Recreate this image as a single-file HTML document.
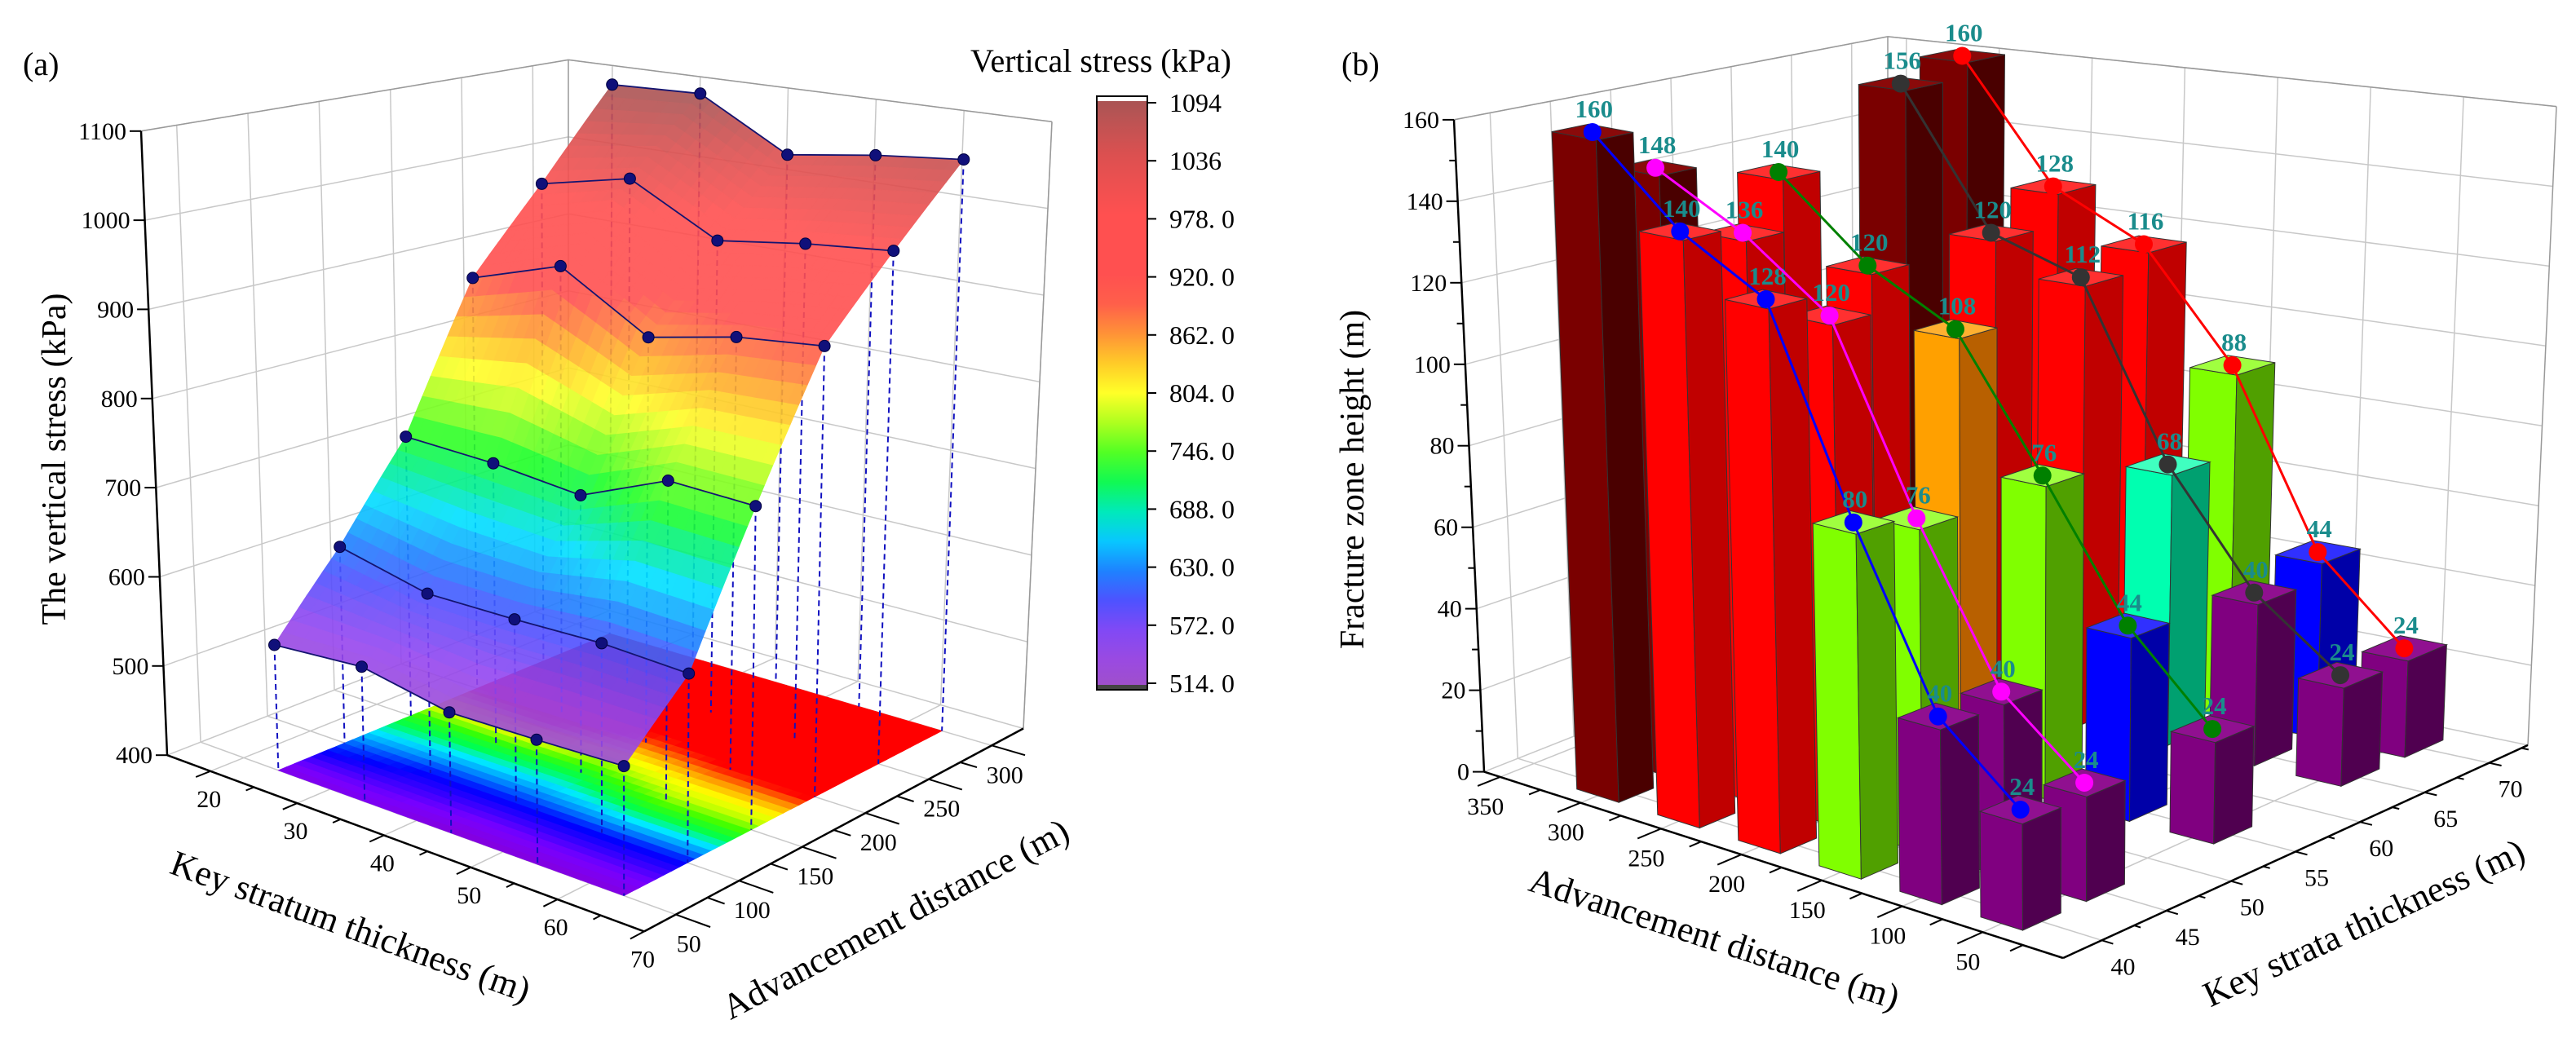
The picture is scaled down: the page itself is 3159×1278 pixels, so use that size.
<!DOCTYPE html>
<html><head><meta charset="utf-8"><title>Vertical stress and fracture zone height charts</title>
<style>
html,body{margin:0;padding:0;background:#fff;}
svg, svg text{font-family:"Liberation Serif","Noto Serif CJK SC",serif;}
</style></head>
<body>
<svg id="chart" width="3159" height="1273" viewBox="0 0 3159 1273" xmlns="http://www.w3.org/2000/svg" font-family="Liberation Serif, serif">
<defs>
<linearGradient id="cbgrad" x1="0" y1="1" x2="0" y2="0"></linearGradient>
</defs>
<g id="ga"></g>
<g id="gb"></g>
<text x="28" y="92" font-size="40">(a)</text>
<text x="1645" y="92" font-size="40">(b)</text>
<text x="1190" y="88" font-size="40">Vertical stress (kPa)</text>
<text transform="translate(80,563) rotate(-90)" text-anchor="middle" font-size="42">The vertical stress (kPa)</text>
<text transform="translate(425,1150) rotate(20)" text-anchor="middle" font-size="44">Key stratum thickness (m)</text>
<text transform="translate(1105,1140) rotate(-28)" text-anchor="middle" font-size="44">Advancement distance (m)</text>
<text transform="translate(1672,588) rotate(-90)" text-anchor="middle" font-size="42">Fracture zone height (m)</text>
<text transform="translate(2098,1165) rotate(18)" text-anchor="middle" font-size="44">Advancement distance (m)</text>
<text transform="translate(2905,1145) rotate(-25)" text-anchor="middle" font-size="44">Key strata thickness (m)</text>
</svg>
<script>
// ---------- Panel (a) data ----------
const thickA = [24, 34, 44, 54, 64];
const advA = [50, 100, 150, 200, 250, 300];
const stress50 = [540, 548, 530, 532, 535];
const stress100 = [624, 601, 602, 605, 601];
const stress150 = [726, 722, 712, 754, 751];
const stress200 = [891, 927, 866, 888, 899];
const stress250 = [985, 1010, 955, 970, 980];
const stress300 = [1090, 1094, 1035, 1050, 1060];
const zTicksA = [400, 500, 600, 700, 800, 900, 1000, 1100];
const tTicksA = [20, 30, 40, 50, 60, 70];
const aTicksA = [50, 100, 150, 200, 250, 300];
const cbLabels = ["1094", "1036", "978. 0", "920. 0", "862. 0", "804. 0", "746. 0", "688. 0", "630. 0", "572. 0", "514. 0"];
const cbValues = [1094, 1036, 978, 920, 862, 804, 746, 688, 630, 572, 514];
// ---------- Panel (b) data ----------
const advB = [300, 250, 200, 150, 100, 50];
const thickB = [40, 45, 55, 65, 70];
const h40 = [160, 140, 128, 80, 40, 24];
const h45 = [148, 136, 120, 76, 40, 24];
const h55 = [140, 120, 108, 76, 44, 24];
const h65 = [156, 120, 112, 68, 40, 24];
const h70 = [160, 128, 116, 88, 44, 24];
const zTicksB = [0, 20, 40, 60, 80, 100, 120, 140, 160];
const aTicksB = [50, 100, 150, 200, 250, 300, 350];
const tTicksB = [40, 45, 50, 55, 60, 65, 70];

const NS = "http://www.w3.org/2000/svg";
const SY = 0.816;
const ga = document.getElementById('ga');
const gb = document.getElementById('gb');
function mk(tag, at, parent) { const e = document.createElementNS(NS, tag); for (const k in at) e.setAttribute(k, at[k]); parent.appendChild(e); return e; }
function bil(c, u, v, k) {
  return c[0][k]*(1-u)*(1-v) + c[1][k]*u*(1-v) + c[2][k]*u*v + c[3][k]*(1-u)*v;
}
const floorA = [[205,1135],[790,1400],[1255,1095],[697,900]];
const vertA = [[-32,-938],[0,-1030],[35,-912],[0,-810]];
function pa(t, a, z) {
  const u = (t-15)/55, v = (a-25)/300, w = (z-400)/700;
  const x = bil(floorA,u,v,0) + w*bil(vertA,u,v,0);
  const y = bil(floorA,u,v,1) + w*bil(vertA,u,v,1);
  return [x*1.0, y*SY];
}
const floorB = [[930,1440],[220,1160],[715,920],[1500,1120]];
const vertB = [[0,-1080],[-37,-980],[0,-865],[35,-960]];
function pb(a, t, z) {
  const u = a/360, v = (t-37)/36, w = z/160;
  const x = bil(floorB,u,v,0) + w*bil(vertB,u,v,0);
  const y = bil(floorB,u,v,1) + w*bil(vertB,u,v,1);
  return [1600 + x, y*SY];
}
const stops = [[514,[160,80,200]],[560,[150,70,240]],[600,[80,80,255]],[630,[30,130,255]],[670,[0,225,255]],[700,[0,240,140]],[730,[30,255,40]],[770,[160,255,30]],[804,[255,255,40]],[840,[255,190,40]],[870,[255,130,60]],[900,[255,80,80]],[980,[255,80,80]],[1036,[220,80,80]],[1094,[165,85,85]]];
const stopsFloor = [[514,[140,0,200]],[560,[120,0,255]],[600,[0,0,255]],[630,[0,110,255]],[670,[0,235,255]],[700,[0,255,80]],[740,[60,255,0]],[780,[200,255,0]],[810,[255,255,0]],[850,[255,150,0]],[890,[255,0,0]],[1094,[255,0,0]]];
function cmapS(z, st) {
  if (z <= st[0][0]) return 'rgb(' + st[0][1].join(',') + ')';
  for (let i = 1; i < st.length; i++) {
    if (z <= st[i][0]) {
      const f = (z - st[i-1][0]) / (st[i][0] - st[i-1][0]);
      const c = st[i-1][1].map((v, k) => Math.round(v + f*(st[i][1][k]-v)));
      return 'rgb(' + c.join(',') + ')';
    }
  }
  return 'rgb(' + st[st.length-1][1].join(',') + ')';
}
function cmap(z) { return cmapS(z, stops); }
function line(p, q, st, sw, parent, name, dash) {
  const l = mk('line', {x1:p[0].toFixed(1), y1:p[1].toFixed(1), x2:q[0].toFixed(1), y2:q[1].toFixed(1), stroke:st, 'stroke-width':sw}, parent);
  if (dash) l.setAttribute('stroke-dasharray', dash);
  
  
  return l;
}
function txt(x, y, s, size, anchor, parent, name, extra) {
  const t = mk('text', {x:x.toFixed(1), y:y.toFixed(1), 'font-size':size, 'text-anchor':anchor}, parent);
  if (extra) for (const k in extra) t.setAttribute(k, extra[k]);
  t.textContent = s;
  
  
  return t;
}
function poly(pts, fill, parent, name, extra) {
  const p = mk('polygon', {points: pts.map(q => q[0].toFixed(1) + ',' + q[1].toFixed(1)).join(' '), fill: fill}, parent);
  if (extra) for (const k in extra) p.setAttribute(k, extra[k]);
  
  
  return p;
}

// ================= PANEL A =================
const GRID = '#c8c8c8';
zTicksA.forEach(z => {
  line(pa(15,25,z), pa(15,325,z), GRID, 1.5, ga, 'grid-line-z-left');
  line(pa(15,325,z), pa(70,325,z), GRID, 1.5, ga, 'grid-line-z-right');
});
aTicksA.forEach(a => {
  line(pa(15,a,400), pa(15,a,1100), GRID, 1.5, ga, 'grid-line-adv-wall');
  line(pa(15,a,400), pa(70,a,400), GRID, 1.5, ga, 'grid-line-adv-floor');
});
tTicksA.forEach(t => {
  line(pa(t,325,400), pa(t,325,1100), GRID, 1.5, ga, 'grid-line-thick-wall');
  line(pa(t,25,400), pa(t,325,400), GRID, 1.5, ga, 'grid-line-thick-floor');
});
line(pa(15,25,1100), pa(15,325,1100), '#999', 1.5, ga, 'box-edge-top-left');
line(pa(15,325,1100), pa(70,325,1100), '#999', 1.5, ga, 'box-edge-top-right');
line(pa(15,325,400), pa(15,325,1100), '#999', 1.5, ga, 'box-edge-back');
line(pa(70,325,400), pa(70,325,1100), '#999', 1.5, ga, 'box-edge-right');

const rowsA = [stress50, stress100, stress150, stress200, stress250, stress300];
function zAt(fi, fj) {
  const i = Math.min(Math.floor(fi), thickA.length-2), j = Math.min(Math.floor(fj), advA.length-2);
  const u = fi - i, v = fj - j;
  return rowsA[j][i]*(1-u)*(1-v) + rowsA[j][i+1]*u*(1-v) + rowsA[j+1][i+1]*u*v + rowsA[j+1][i]*(1-u)*v;
}
function tAt(fi) { const i = Math.min(Math.floor(fi), thickA.length-2); const u = fi-i; return thickA[i] + u*(thickA[i+1]-thickA[i]); }
function aAt(fj) { const j = Math.min(Math.floor(fj), advA.length-2); const v = fj-j; return advA[j] + v*(advA[j+1]-advA[j]); }
const N = 8;
const cells = [];
for (let i = 0; i < thickA.length-1; i++) for (let j = 0; j < advA.length-1; j++)
  for (let p = 0; p < N; p++) for (let q = 0; q < N; q++) {
    const f0 = i + p/N, f1 = i + (p+1)/N, g0 = j + q/N, g1 = j + (q+1)/N;
    cells.push({f0, f1, g0, g1, depth: (f0+f1)/8 - (g0+g1)/10});
  }
cells.forEach(c => {
  const zm = zAt((c.f0+c.f1)/2, (c.g0+c.g1)/2);
  const pts = [[c.f0,c.g0],[c.f1,c.g0],[c.f1,c.g1],[c.f0,c.g1]].map(d => pa(tAt(d[0]), aAt(d[1]), 400));
  const col = cmapS(zm, stopsFloor);
  poly(pts, col, ga, 'floor-contour-cell', {stroke: col, 'stroke-width': 0.8});
});
rowsA.forEach((row, j) => row.forEach((z, i) => {
  line(pa(thickA[i], advA[j], z), pa(thickA[i], advA[j], 400), '#1010c0', 2, ga, 'drop-line', '7,5');
}));
cells.sort((a, b) => a.depth - b.depth);
const surf = mk('g', {opacity: 0.9}, ga);


cells.forEach(c => {
  const ds = [[c.f0,c.g0],[c.f1,c.g0],[c.f1,c.g1],[c.f0,c.g1]];
  const pts = ds.map(d => pa(tAt(d[0]), aAt(d[1]), zAt(d[0], d[1])));
  const col = cmap(zAt((c.f0+c.f1)/2, (c.g0+c.g1)/2));
  poly(pts, col, surf, 'surface-cell', {stroke: col, 'stroke-width': 1});
});
rowsA.forEach((row, j) => {
  const pts = row.map((z, i) => pa(thickA[i], advA[j], z));
  const pl = mk('polyline', {points: pts.map(p => p[0].toFixed(1) + ',' + p[1].toFixed(1)).join(' '), fill: 'none', stroke: '#141470', 'stroke-width': 1.8}, ga);
  
  
  pts.forEach(p => {
    const c = mk('circle', {cx: p[0].toFixed(1), cy: p[1].toFixed(1), r: 7, fill: '#10107a', stroke: '#000040', 'stroke-width': 1}, ga);
    
    
  });
});
line(pa(15,25,400), pa(15,25,1100), '#000', 2.5, ga, 'z-axis-a');
line(pa(15,25,400), pa(70,25,400), '#000', 2.5, ga, 'thickness-axis-a');
line(pa(70,25,400), pa(70,325,400), '#000', 2.5, ga, 'advance-axis-a');
zTicksA.forEach(z => {
  const p = pa(15,25,z);
  line(p, [p[0]-14, p[1]], '#000', 2, ga, 'z-tick-a');
  txt(p[0]-18, p[1]+10, String(z), 30, 'end', ga, 'z-tick-label-a');
});
for (let t = 20; t <= 70; t += 5) {
  const p = pa(t,25,400), q = pa(t, t % 10 === 0 ? 14 : 19, 400);
  line(p, q, '#000', 2, ga, 'thickness-tick-a');
}
tTicksA.forEach(t => { const p = pa(t,25,400); txt(p[0]-2, p[1]+44, String(t), 30, 'middle', ga, 'thickness-tick-label-a'); });
for (let a = 50; a <= 300; a += 25) {
  const p = pa(70,a,400), q = pa(a % 50 === 0 ? 74 : 72, a, 400);
  line(p, q, '#000', 2, ga, 'advance-tick-a');
}
aTicksA.forEach(a => { const p = pa(70,a,400); txt(p[0]+16, p[1]+46, String(a), 30, 'middle', ga, 'advance-tick-label-a'); });
const grad = document.getElementById('cbgrad');
for (let k = 0; k <= 20; k++) {
  const z = 514 + (1094-514)*k/20;
  mk('stop', {offset: (k/20*100).toFixed(1) + '%', 'stop-color': cmap(z)}, grad);
}
const cbTop = 126, cbBot = 838;
const cbr = mk('rect', {x: 1345, y: cbTop-8, width: 62, height: cbBot-cbTop+16, fill: 'url(#cbgrad)', stroke: '#000', 'stroke-width': 2}, ga);


const cbw = mk('rect', {x: 1346, y: cbTop-7, width: 60, height: 5, fill: '#fff'}, ga);


const cbd = mk('rect', {x: 1346, y: cbBot+2, width: 60, height: 5, fill: '#444'}, ga);


cbValues.forEach((v, k) => {
  const y = cbBot - (v-514)/(1094-514)*(cbBot-cbTop);
  line([1407, y], [1418, y], '#000', 2, ga, 'colorbar-tick');
  txt(1434, y+11, cbLabels[k], 32, 'start', ga, 'colorbar-tick-label');
});

// ================= PANEL B =================
zTicksB.forEach(z => {
  line(pb(360,37,z), pb(360,73,z), GRID, 1.5, gb, 'grid-line-z-left');
  line(pb(360,73,z), pb(0,73,z), GRID, 1.5, gb, 'grid-line-z-right');
});
tTicksB.forEach(t => {
  line(pb(360,t,0), pb(360,t,160), GRID, 1.5, gb, 'grid-line-thick-wall');
  line(pb(0,t,0), pb(360,t,0), GRID, 1.5, gb, 'grid-line-thick-floor');
});
aTicksB.forEach(a => {
  line(pb(a,73,0), pb(a,73,160), GRID, 1.5, gb, 'grid-line-adv-wall');
  line(pb(a,37,0), pb(a,73,0), GRID, 1.5, gb, 'grid-line-adv-floor');
});
line(pb(360,37,160), pb(360,73,160), '#999', 1.5, gb, 'box-edge-top-left');
line(pb(360,73,160), pb(0,73,160), '#999', 1.5, gb, 'box-edge-top-right');
line(pb(360,73,0), pb(360,73,160), '#999', 1.5, gb, 'box-edge-back');
line(pb(0,73,0), pb(0,73,160), '#999', 1.5, gb, 'box-edge-right');

const seriesB = [h40, h45, h55, h65, h70];
const lineCols = ['#0000ff', '#ff00ff', '#008000', '#333333', '#ff0000'];
function barCol(h) {
  if (h >= 145) return ['#8a0a0a', '#7a0000', '#4a0000'];
  if (h >= 110) return ['#ff3030', '#ff0000', '#c00000'];
  if (h >= 100) return ['#ffb030', '#ffa000', '#b86000'];
  if (h >= 72) return ['#a0ff40', '#80ff00', '#50a000'];
  if (h >= 60) return ['#40ffc0', '#00ffb0', '#00a070'];
  if (h >= 42) return ['#3030ff', '#0000ff', '#0000a8'];
  return ['#901090', '#800080', '#500050'];
}
const bars = [];
seriesB.forEach((s, ti) => s.forEach((h, ai) => bars.push({a: advB[ai], t: thickB[ti], h})));
bars.sort((p, q) => (q.a/360 + (q.t-37)/36) - (p.a/360 + (p.t-37)/36));
const DA = 13, DT = 1.5;
bars.forEach(b => {
  const c = barCol(b.h);
  const a0 = b.a-DA, a1 = b.a+DA, t0 = b.t-DT, t1 = b.t+DT;
  const g = mk('g', {stroke: '#333', 'stroke-width': 1}, gb);
  
  
  poly([pb(a0,t0,0), pb(a1,t0,0), pb(a1,t0,b.h), pb(a0,t0,b.h)], c[1], g, 'bar-left-face');
  poly([pb(a0,t0,0), pb(a0,t1,0), pb(a0,t1,b.h), pb(a0,t0,b.h)], c[2], g, 'bar-right-face');
  poly([pb(a0,t0,b.h), pb(a1,t0,b.h), pb(a1,t1,b.h), pb(a0,t1,b.h)], c[0], g, 'bar-top-face');
});
seriesB.forEach((s, ti) => {
  const pts = s.map((h, ai) => pb(advB[ai], thickB[ti], h));
  const pl = mk('polyline', {points: pts.map(p => p[0].toFixed(1) + ',' + p[1].toFixed(1)).join(' '), fill: 'none', stroke: lineCols[ti], 'stroke-width': 3}, gb);
  
  
  pts.forEach((p, ai) => {
    const c = mk('circle', {cx: p[0].toFixed(1), cy: p[1].toFixed(1), r: 11, fill: lineCols[ti]}, gb);
    
    
    txt(p[0]+2, p[1]-18, String(s[ai]), 31, 'middle', gb, 'value-label', {fill: '#1a8c8c', 'font-weight': 'bold'});
  });
});
line(pb(360,37,0), pb(360,37,160), '#000', 2.5, gb, 'z-axis-b');
line(pb(360,37,0), pb(0,37,0), '#000', 2.5, gb, 'advance-axis-b');
line(pb(0,37,0), pb(0,73,0), '#000', 2.5, gb, 'thickness-axis-b');
for (let z = 0; z <= 160; z += 10) {
  const p = pb(360,37,z);
  line(p, [p[0] - (z % 20 === 0 ? 14 : 8), p[1]], '#000', 2, gb, 'z-tick-b');
}
zTicksB.forEach(z => { const p = pb(360,37,z); txt(p[0]-18, p[1]+10, String(z), 30, 'end', gb, 'z-tick-label-b'); });
for (let a = 25; a <= 350; a += 25) {
  const p = pb(a,37,0), q = pb(a, a % 50 === 0 ? 35 : 36, 0);
  line(p, q, '#000', 2, gb, 'advance-tick-b');
}
aTicksB.forEach(a => { const p = pb(a,37,0); txt(p[0]-18, p[1]+46, String(a), 30, 'middle', gb, 'advance-tick-label-b'); });
for (let t = 40; t <= 72.5; t += 2.5) {
  const p = pb(0,t,0), q = pb(t % 5 === 0 ? -7 : -4, t, 0);
  line(p, q, '#000', 2, gb, 'thickness-tick-b');
}
tTicksB.forEach(t => { const p = pb(0,t,0); txt(p[0]+26, p[1]+42, String(t), 30, 'middle', gb, 'thickness-tick-label-b'); });
</script>
</body></html>
